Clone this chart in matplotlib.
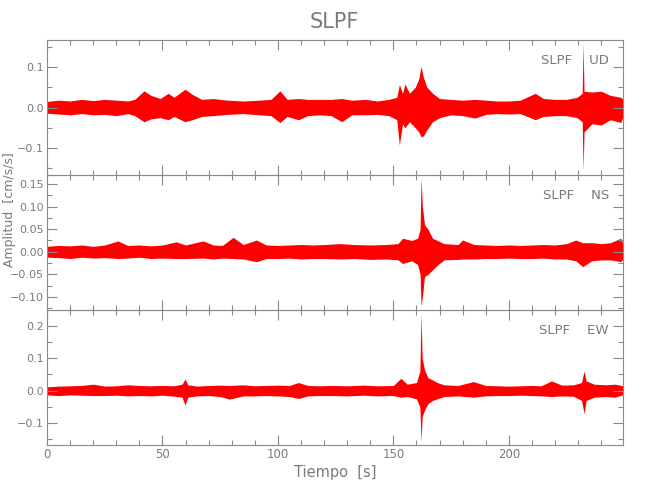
import matplotlib
matplotlib.use("Agg")
import matplotlib.pyplot as plt
from matplotlib import font_manager
from matplotlib.ticker import MultipleLocator, FuncFormatter

# envelope of each trace: time [s], upper, lower [cm/s/s]
t_ud = [0, 5, 10, 15, 20, 25, 30, 35, 38, 42, 45, 49, 52.5, 55, 59.8, 63, 67, 72, 78, 85,
        92, 97, 100.9, 104, 108.9, 113, 118, 123, 127.7, 132, 138, 143, 148, 151.5, 152.6,
        154, 155, 157, 159.5, 161, 162, 163, 164.5, 167, 170, 175, 180, 185.4, 190, 195,
        200, 205, 211.5, 215, 220, 225, 229.6, 231.8, 232.2, 232.6, 236, 240, 244, 248.5, 249.6]
up_ud = [0.015, 0.018, 0.016, 0.020, 0.017, 0.020, 0.018, 0.016, 0.020, 0.041, 0.030, 0.022,
         0.035, 0.025, 0.045, 0.032, 0.020, 0.022, 0.018, 0.016, 0.018, 0.020, 0.041, 0.020,
         0.022, 0.020, 0.020, 0.020, 0.022, 0.018, 0.020, 0.016, 0.020, 0.025, 0.056, 0.035,
         0.058, 0.035, 0.050, 0.070, 0.101, 0.075, 0.050, 0.035, 0.022, 0.020, 0.018, 0.020,
         0.018, 0.016, 0.016, 0.018, 0.035, 0.022, 0.020, 0.020, 0.025, 0.035, 0.159, 0.040,
         0.038, 0.040, 0.030, 0.025, 0.020]
lo_ud = [-0.014, -0.016, -0.018, -0.015, -0.018, -0.017, -0.020, -0.015, -0.020, -0.035, -0.028,
         -0.025, -0.030, -0.022, -0.035, -0.030, -0.022, -0.020, -0.017, -0.015, -0.018, -0.020,
         -0.037, -0.022, -0.030, -0.020, -0.018, -0.020, -0.035, -0.018, -0.018, -0.017, -0.020,
         -0.030, -0.092, -0.040, -0.050, -0.035, -0.050, -0.060, -0.072, -0.070, -0.055, -0.035,
         -0.025, -0.018, -0.020, -0.026, -0.017, -0.015, -0.016, -0.015, -0.030, -0.022, -0.020,
         -0.020, -0.025, -0.035, -0.156, -0.060, -0.040, -0.043, -0.030, -0.037, -0.020]

t_ns = [0, 5, 10, 15, 20, 25, 30.7, 35, 40, 45, 50, 56, 60, 67.6, 72, 76, 80.6, 85, 90.7, 95,
        100, 105, 110, 115, 120, 127, 133, 140, 147, 152, 154, 158, 160.5, 161.6, 162, 162.6,
        163.5, 165, 167, 169, 172, 178, 180, 185, 190, 195, 200, 205, 210, 215, 220, 225, 229,
        232, 236, 240, 244, 248.5, 249.6]
up_ns = [0.012, 0.014, 0.013, 0.015, 0.012, 0.015, 0.024, 0.014, 0.015, 0.013, 0.015, 0.022,
         0.015, 0.024, 0.015, 0.014, 0.032, 0.016, 0.026, 0.015, 0.014, 0.015, 0.016, 0.015,
         0.016, 0.018, 0.016, 0.015, 0.016, 0.018, 0.030, 0.025, 0.030, 0.050, 0.163, 0.100,
         0.060, 0.050, 0.030, 0.025, 0.018, 0.016, 0.026, 0.016, 0.015, 0.014, 0.015, 0.014,
         0.015, 0.016, 0.015, 0.018, 0.026, 0.020, 0.020, 0.018, 0.020, 0.030, 0.015]
lo_ns = [-0.012, -0.013, -0.015, -0.012, -0.014, -0.013, -0.015, -0.014, -0.012, -0.015, -0.014,
         -0.015, -0.015, -0.014, -0.016, -0.014, -0.015, -0.016, -0.022, -0.015, -0.015, -0.014,
         -0.016, -0.015, -0.015, -0.016, -0.015, -0.017, -0.016, -0.018, -0.026, -0.020, -0.028,
         -0.050, -0.120, -0.100, -0.055, -0.050, -0.040, -0.030, -0.018, -0.017, -0.016, -0.016,
         -0.015, -0.015, -0.014, -0.015, -0.015, -0.014, -0.016, -0.016, -0.020, -0.033, -0.020,
         -0.018, -0.018, -0.022, -0.015]

t_ew = [0, 5, 10, 15, 20, 25, 30, 35, 40, 45, 50, 55, 58.5, 59.8, 61, 65, 70, 75, 79, 85, 90,
        95, 100, 105, 108.9, 113, 118, 123, 130, 137, 143, 150, 153.3, 156, 160, 161.5, 162,
        162.5, 163.5, 165, 167, 169, 172, 178, 184.7, 190, 195, 200, 205, 210, 214, 218.5, 223,
        228, 231.5, 232.6, 233.5, 237, 242, 246, 249.6]
up_ew = [0.012, 0.014, 0.015, 0.016, 0.020, 0.014, 0.015, 0.018, 0.016, 0.015, 0.016, 0.015,
         0.020, 0.036, 0.018, 0.014, 0.016, 0.017, 0.016, 0.018, 0.015, 0.016, 0.017, 0.016,
         0.025, 0.016, 0.015, 0.016, 0.015, 0.017, 0.015, 0.016, 0.038, 0.020, 0.025, 0.060,
         0.238, 0.100, 0.064, 0.040, 0.033, 0.025, 0.018, 0.016, 0.028, 0.016, 0.015, 0.014,
         0.015, 0.016, 0.015, 0.030, 0.017, 0.018, 0.025, 0.060, 0.030, 0.020, 0.018, 0.020, 0.015]
lo_ew = [-0.013, -0.015, -0.013, -0.014, -0.015, -0.015, -0.014, -0.016, -0.015, -0.016, -0.014,
         -0.017, -0.020, -0.044, -0.020, -0.016, -0.015, -0.018, -0.026, -0.016, -0.016, -0.015,
         -0.016, -0.018, -0.024, -0.016, -0.015, -0.015, -0.016, -0.014, -0.016, -0.015, -0.020,
         -0.018, -0.025, -0.050, -0.157, -0.080, -0.060, -0.040, -0.030, -0.025, -0.018, -0.016,
         -0.020, -0.016, -0.015, -0.015, -0.014, -0.015, -0.016, -0.018, -0.016, -0.017, -0.030,
         -0.070, -0.030, -0.020, -0.018, -0.020, -0.012]

station = "SLPF"
components = ["UD", "NS", "EW"]
t_end = 249.6

GRAY = "#8a8a8a"
TXT = "#7a7a7a"

# narrow font if there is one, the IDL labels are thin and condensed
fam = "DejaVu Sans"
for cand in ["Liberation Sans Narrow", "DejaVu Sans Condensed"]:
    try:
        font_manager.findfont(cand, fallback_to_default=False)
        fam = cand
        break
    except Exception:
        pass
plt.rcParams["font.family"] = [fam, "DejaVu Sans"]

fig = plt.figure(figsize=(6.5, 5), dpi=100)

panels = [
    (t_ud, up_ud, lo_ud, (-0.166, 0.166), 0.1, 0.05, "%.1f", 0.65),
    (t_ns, up_ns, lo_ns, (-0.129, 0.170), 0.05, 0.025, "%.2f", 0.38),
    (t_ew, up_ew, lo_ew, (-0.167, 0.248), 0.1, 0.05, "%.1f", 0.11),
]

for i, (t, up, lo, ylim, maj, mnr, fmt, bottom) in enumerate(panels):
    ax = fig.add_axes([0.0723, bottom, 0.8866, 0.27])
    ax.fill_between(t, lo, up, color="#ff0000", lw=0)
    ax.set_xlim(0, t_end)
    ax.set_ylim(*ylim)
    ax.xaxis.set_major_locator(MultipleLocator(50))
    ax.xaxis.set_minor_locator(MultipleLocator(10))
    ax.yaxis.set_major_locator(MultipleLocator(maj))
    ax.yaxis.set_minor_locator(MultipleLocator(mnr))
    ax.yaxis.set_major_formatter(FuncFormatter(lambda v, p, f=fmt: (f % v).replace("-", "\u2212")))
    ax.tick_params(which="both", direction="in", top=True, right=True,
                   color=GRAY, labelcolor=TXT, labelsize=8, width=0.8)
    ax.tick_params(which="major", length=7, pad=2)
    ax.tick_params(which="minor", length=3.5)
    ax.tick_params(axis="x", labelsize=8.5)
    for s in ax.spines.values():
        s.set_color(GRAY)
        s.set_linewidth(0.8)
    if i < 2:
        ax.tick_params(labelbottom=False)
    ax.text(0.975, 0.845, station + "    " + components[i], transform=ax.transAxes,
            ha="right", va="center", fontsize=9.5, color=TXT)
    ax.patch.set_alpha(0)

fig.text(0.515, 0.956, station, ha="center", va="center", fontsize=15, color=TXT)
fig.text(0.515, 0.056, "Tiempo  [s]", ha="center", va="center", fontsize=10.5, color=TXT)
fig.text(0.014, 0.58, "Amplitud  [cm/s/s]", ha="center", va="center", rotation=90,
         fontsize=9, color=TXT)

fig.savefig("out.png", dpi=100)
